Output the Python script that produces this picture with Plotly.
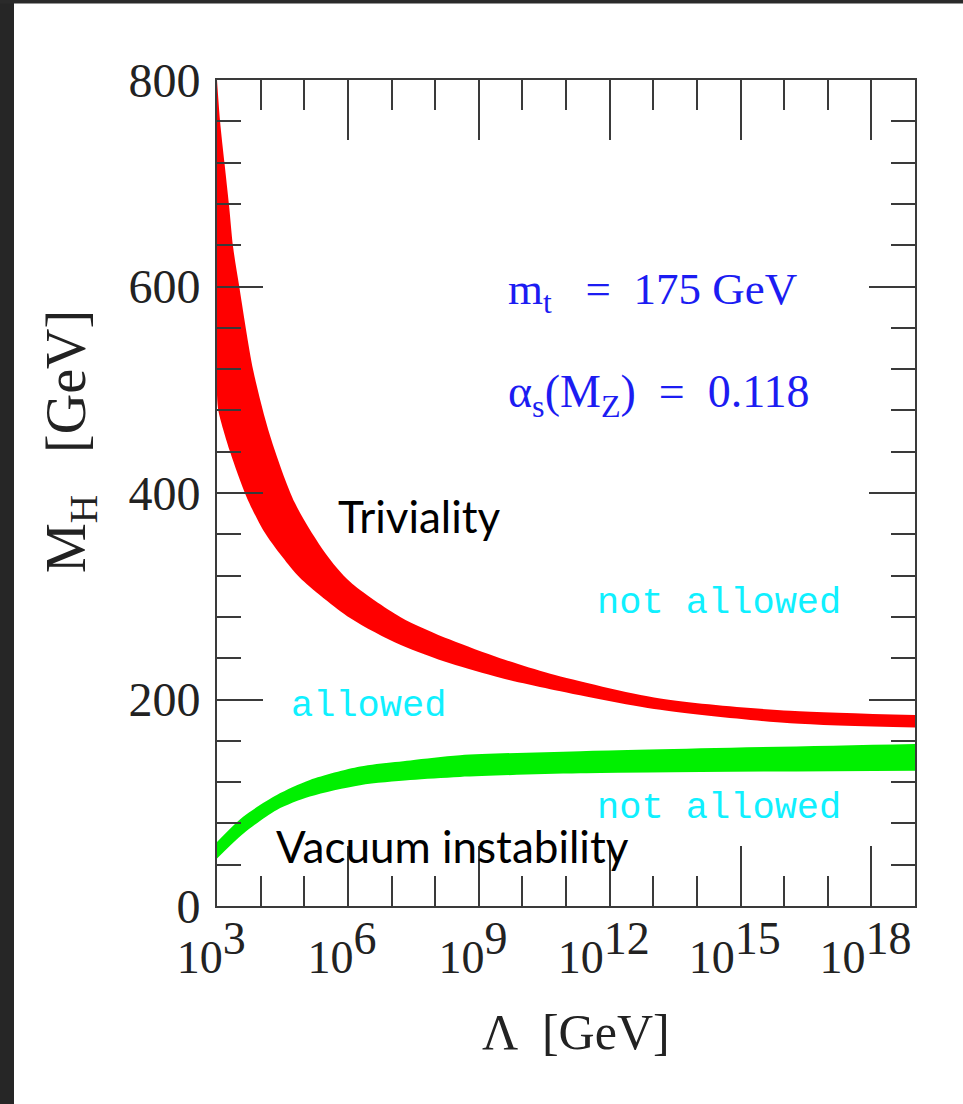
import plotly.graph_objects as go

# ---- data -------------------------------------------------------------
# log10 of the cut-off scale Lambda [GeV] and Higgs mass bounds M_H [GeV]
triv_up_loglam = [3.0, 3.07, 3.17, 3.275, 3.37, 3.51, 3.83, 4.22, 4.79, 5.48, 6.05,
                  7.2, 8.34, 9.49, 10.64, 13.16, 16.14, 19.0]
triv_up_mh = [800, 760, 720, 679, 638, 600, 519, 455, 390, 342, 314,
              280, 258, 240, 225, 201, 189, 185]

triv_lo_loglam = [3.0, 3.03, 3.30, 3.68, 4.06, 4.5, 4.90, 6.05, 7.2, 8.34, 9.49,
                  10.64, 13.16, 16.14, 19.0]
triv_lo_mh = [495, 480, 440, 396, 364, 338, 318, 279, 253, 235, 221,
              210, 190, 177, 173]

vac_loglam = [3.0, 3.6, 4.37, 5.13, 6.28, 7.43, 8.57, 11.33, 19.0]
vac_up_mh = [62, 86.5, 107.5, 122, 135, 141, 146, 150, 157]
vac_lo_mh = [46, 70, 93, 106, 117, 122, 125, 128.5, 131]

major_exponents = [3, 6, 9, 12, 15, 18]
minor_exponents = [4, 5, 7, 8, 10, 11, 13, 14, 16, 17, 19]


def to_gev(logs):
    return [10 ** v for v in logs]


# ---- geometry (pixels) --------------------------------------------------
W, H = 963, 1104
L, R, T, B = 217, 915, 80, 906
PW, PH = R - L, B - T


def px(x):
    return (x - L) / PW


def py(y):
    return (B - y) / PH


SERIF = "Liberation Serif, DejaVu Serif, serif"
MONO = "Liberation Mono, DejaVu Sans Mono, monospace"
SANS = "Lato, Open Sans, sans-serif"
AXIS_COL = "#3a3a3a"
BLUE = "#1c1cf2"
CYAN = "#10f0ff"
RED = "#ff0000"
GREEN = "#00f000"

fig = go.Figure()


def add_band(xlo, ylo, xup, yup, color):
    # lower edge first, then the upper edge filled down to it
    fig.add_trace(go.Scatter(
        x=to_gev(xlo), y=ylo, mode="lines",
        line=dict(width=0, color=color, shape="spline", smoothing=0.8),
        hoverinfo="skip", showlegend=False,
    ))
    fig.add_trace(go.Scatter(
        x=to_gev(xup), y=yup, mode="lines", fill="tonexty", fillcolor=color,
        line=dict(width=0, color=color, shape="spline", smoothing=0.8),
        hoverinfo="skip", showlegend=False,
    ))


add_band(triv_lo_loglam, triv_lo_mh, triv_up_loglam, triv_up_mh, RED)
add_band(vac_loglam, vac_lo_mh, vac_loglam, vac_up_mh, GREEN)

big_sup = "<span style='font-size:46px'>{}</span>"
fig.update_xaxes(
    type="log", range=[3, 19],
    tickmode="array",
    tickvals=[10 ** e for e in major_exponents],
    ticktext=["10<sup>" + big_sup.format(e) + "</sup>\u00a0" for e in major_exponents],
    ticks="inside", ticklen=60, tickwidth=2, tickcolor=AXIS_COL,
    minor=dict(tickmode="array", tickvals=[10 ** e for e in minor_exponents],
               ticks="inside", ticklen=30, tickwidth=2, tickcolor=AXIS_COL),
    showline=True, linewidth=2, linecolor=AXIS_COL, mirror="allticks",
    showgrid=False, zeroline=False,
    tickfont=dict(family=SERIF, size=46, color="#222"),
    ticklabelstandoff=10,
)
fig.update_yaxes(
    range=[0, 800], tickmode="linear", tick0=0, dtick=200,
    ticks="inside", ticklen=46, tickwidth=2, tickcolor=AXIS_COL,
    minor=dict(dtick=40, ticks="inside", ticklen=24, tickwidth=2, tickcolor=AXIS_COL),
    showline=True, linewidth=2, linecolor=AXIS_COL, mirror="allticks",
    showgrid=False, zeroline=False,
    tickfont=dict(family=SERIF, size=48, color="#222"),
    ticklabelstandoff=5,
)

annotations = [
    # axis titles
    dict(x=px(576), y=py(1032), text="Λ  [GeV]", font=dict(family=SERIF, size=50, color="#222"),
         xanchor="center", yanchor="middle"),
    dict(x=px(70), y=py(442), text="M<sub>H</sub>   [GeV]", textangle=-90,
         font=dict(family=SERIF, size=56, color="#222"), xanchor="center", yanchor="middle"),
    # parameters
    dict(x=px(506), y=py(292), text="m<sub>t</sub>   =  175 GeV",
         font=dict(family=SERIF, size=45, color=BLUE), xanchor="left", yanchor="middle"),
    dict(x=px(506), y=py(395), text="α<sub>s</sub>(M<sub>Z</sub>)  =  0.118",
         font=dict(family=SERIF, size=46, color=BLUE), xanchor="left", yanchor="middle"),
    # regions
    dict(x=px(595), y=py(603), text="not allowed", font=dict(family=MONO, size=37, color=CYAN),
         xanchor="left", yanchor="middle"),
    dict(x=px(595), y=py(808), text="not allowed", font=dict(family=MONO, size=37, color=CYAN),
         xanchor="left", yanchor="middle"),
    dict(x=px(289), y=py(706), text="allowed", font=dict(family=MONO, size=37, color=CYAN),
         xanchor="left", yanchor="middle"),
    dict(x=px(336), y=py(516), text="Triviality", font=dict(family=SANS, size=44, color="#000"),
         xanchor="left", yanchor="middle"),
    dict(x=px(274), y=py(846), text="Vacuum instability", font=dict(family=SANS, size=44, color="#000"),
         xanchor="left", yanchor="middle"),
]
for a in annotations:
    a.update(xref="paper", yref="paper", showarrow=False)

shapes = [
    # dark slide frame on the left and top edges
    dict(type="rect", xref="paper", yref="paper", x0=px(0), x1=px(14), y0=py(H), y1=py(0),
         fillcolor="#262626", line=dict(width=0), layer="below"),
    dict(type="rect", xref="paper", yref="paper", x0=px(0), x1=px(W), y0=py(3.5), y1=py(0),
         fillcolor="#2a2a2a", line=dict(width=0), layer="below"),
]

fig.update_layout(
    width=W, height=H,
    margin=dict(l=L, r=W - R, t=T, b=H - B, pad=0),
    paper_bgcolor="white", plot_bgcolor="white",
    annotations=annotations, shapes=shapes, showlegend=False,
)

fig.write_html("out.html")
